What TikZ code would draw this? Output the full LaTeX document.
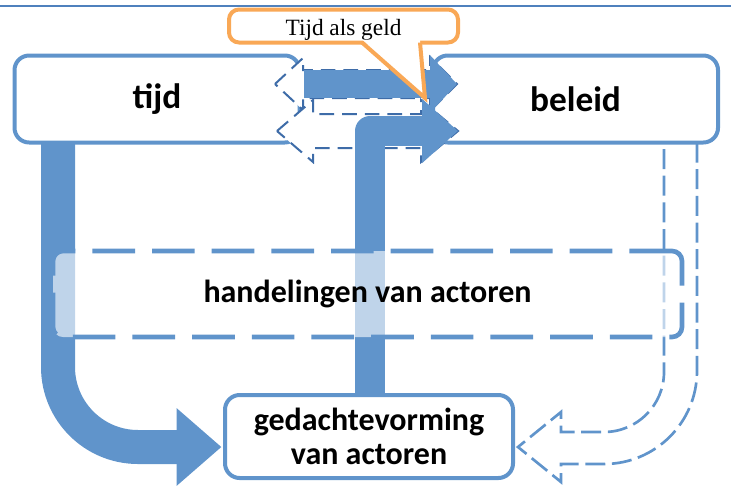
\documentclass[tikz,border=0pt]{standalone}
\usepackage{fontspec}
\setmainfont{Liberation Serif}
\newfontfamily\boxfont{Carlito}
\usetikzlibrary{arrows.meta,calc}
\definecolor{flowblue}{RGB}{96,148,203}
\definecolor{ghostblue}{RGB}{62,108,168}
\definecolor{rulerblue}{RGB}{79,129,189}
\definecolor{calloutorange}{RGB}{249,168,86}

\begin{document}
\begin{tikzpicture}[x=0.75pt, y=-0.75pt,
	box/.style={draw=flowblue, line width=3pt, fill=white, rounded corners=11pt,
		outer sep=0pt, inner sep=0pt, align=center,
		font=\boxfont\bfseries\fontsize{24}{25}\selectfont},
	bigbox/.style={box, minimum width=213.75pt, minimum height=65.25pt,
		font=\boxfont\bfseries\fontsize{26.5}{28}\selectfont},
	flow/.style={draw=flowblue, line join=round},
	ghost/.style={draw=ghostblue, fill=white, line width=1.5pt,
		dash pattern=on 11pt off 6pt},
	loopback/.style={draw=flowblue, line width=2pt, dash pattern=on 15pt off 5pt}]
	\useasboundingbox (0,0) rectangle (731,486);
	\draw[rulerblue, line width=1.5pt] (0,6) -- (731,6);

	\node[bigbox] (tijd) at (157,99) {tijd};
	\node[bigbox] (beleid) at (575.5,99) {beleid};
	\node[box, minimum width=216pt, minimum height=62.25pt] (gedacht) at (369,436.5)
		{gedachtevorming\\van actoren};

	\draw[loopback] ($(beleid.south east)+(-21,0)$) [rounded corners=69.75pt] -- (697,464)
		[sharp corners] -- (561,464) -- (561,482) -- (518,447) -- (561,412) -- (561,432)
		[rounded corners=45pt] -- (664,432) -- ($(beleid.south east)+(-54,0)$);

	\draw[ghost] (275,84) -- (303,58) -- (303,70) -- (430,70) -- (430,57) -- (457,84)
		-- (430,111) -- (430,98) -- (303,98) -- (303,110) -- cycle;
	\draw[ghost] (277,131) -- (313,100) -- (313,114) -- (421,114) -- (421,100) -- (458,131)
		-- (421,162) -- (421,148) -- (313,148) -- (313,162) -- cycle;

	\draw[flow, line width=21pt, -{Triangle[length=20.25pt, width=42pt]}]
		($(tijd.east)+(4,-15)$) -- ($(beleid.west)+(24,-15)$);
	\draw[flow, line width=22.5pt, -{Triangle[length=27pt, width=46.5pt]}]
		($(gedacht.north)+(1,0)$) |- ($(beleid.west)+(25,32)$);
	\draw[flow, line width=25.5pt, rounded corners=60pt, -{Triangle[length=33.75pt, width=56.25pt]}]
		($(tijd.south west)+(43.5,0)$) |- ($(gedacht.west)+(-3.5,10.5)$);

	\node[box, fill opacity=0.6, text opacity=1, line width=3.5pt, rounded corners=7.5pt,
		dash pattern=on 32pt off 12.75pt, minimum width=471.75pt, minimum height=64.5pt]
		(handel) at (367.5,294) {handelingen van actoren};

	\node[draw=calloutorange, line width=3pt, fill=white, rounded corners=7.5pt,
		outer sep=0pt, inner sep=0pt, minimum width=171.75pt, minimum height=24.75pt,
		text height=15pt, text depth=1.5pt,
		font=\fontsize{17.5}{20}\selectfont] (geld) at (343.5,26) {Tijd als geld};
	\coordinate (geldtip) at (425,98);
	\fill[white] ($(geld.south)+(18.5,-3)$) -- (geldtip) -- ($(geld.south)+(76.5,-3)$) -- cycle;
	\draw[calloutorange, line width=3pt] ($(geld.south)+(18.5,0)$) -- (geldtip)
		-- ($(geld.south)+(76.5,0)$);
\end{tikzpicture}
\end{document}
